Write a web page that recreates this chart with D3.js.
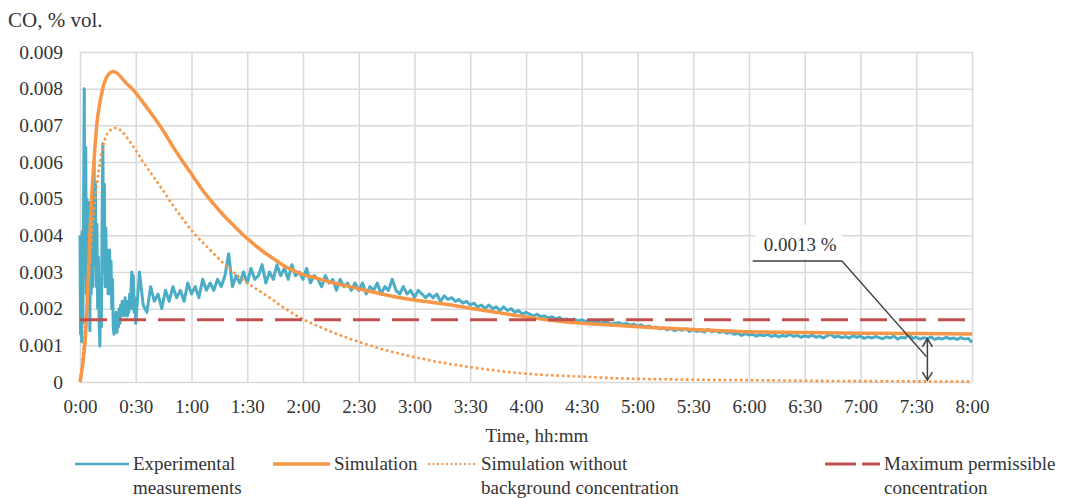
<!DOCTYPE html>
<html>
<head>
<meta charset="utf-8">
<script src="https://cdn.jsdelivr.net/npm/d3@7"></script>
<style>
  body { margin: 0; background: #fff; }
  svg { display: block; }
  text { font-family: "Liberation Serif", "Times New Roman", serif; fill: #333; }
</style>
</head>
<body>
<svg id="chart" width="1084" height="498"></svg>
<script>
// ---------- DATA (minutes, CO in units of 0.001 % vol.) ----------
const xTickMinutes = [0,30,60,90,120,150,180,210,240,270,300,330,360,390,420,450,480];
const xTickLabels = ["0:00","0:30","1:00","1:30","2:00","2:30","3:00","3:30","4:00","4:30","5:00","5:30","6:00","6:30","7:00","7:30","8:00"];
const yTickValues = [0,0.001,0.002,0.003,0.004,0.005,0.006,0.007,0.008,0.009];
const yTickLabels = ["0","0.001","0.002","0.003","0.004","0.005","0.006","0.007","0.008","0.009"];

// Experimental measurements, first 30 minutes: [minute, value x 0.001]
const expEarly = [
  [0,4.0],[0.3,1.3],[0.6,3.9],[0.9,1.1],[1.2,4.1],[1.5,1.6],[1.8,3.5],[2.1,6.4],[2.3,8.0],[2.5,3.0],
  [2.8,5.2],[3.1,6.4],[3.4,2.4],[3.7,5.0],[4.0,2.0],[4.3,4.6],[4.7,2.8],[5.0,4.9],[5.3,1.4],[5.7,4.2],
  [6.0,2.4],[6.4,3.8],[6.8,2.6],[7.2,4.6],[7.6,6.0],[7.9,3.2],[8.3,5.4],[8.7,2.6],[9.1,4.3],[9.5,2.0],
  [9.9,3.4],[10.3,1.6],[10.7,0.98],[11.1,2.8],[11.5,1.5],[11.9,4.5],[12.3,6.5],[12.7,3.0],[13.1,5.4],[13.5,2.6],
  [13.9,4.2],[14.3,2.8],[14.7,3.6],[15.1,2.4],[15.5,3.4],[15.9,3.6],[16.3,2.4],[16.7,3.3],[17.1,2.0],[17.5,2.8],
  [17.9,1.5],[18.3,1.3],[18.7,1.7],[19.1,1.4],[19.5,1.9],[19.9,1.35],[20.3,1.8],[20.7,1.5],[21.1,2.0],[21.5,1.6],
  [21.9,2.1],[22.3,1.8],[22.7,2.2],[23.1,1.9],[23.5,2.1],[23.9,1.8],[24.3,2.3],[24.7,1.9],[25.1,2.1],[25.5,1.8],
  [25.9,2.2],[26.3,1.9],[26.7,2.4],[27.1,2.0],[27.5,2.6],[27.9,3.0],[28.3,2.0],[28.7,2.9],[29.1,1.9],[29.5,2.3]
];
// Experimental measurements from minute 30, one value every 2 minutes
const expLateStart = 30, expLateStep = 2;
const expLate = [
  1.6,3.0,2.1,1.9,2.6,2.2,2.4,2.0,2.5,2.2,
  2.6,2.3,2.5,2.2,2.7,2.4,2.6,2.3,2.8,2.5,
  2.7,2.5,2.8,2.6,2.9,3.5,2.6,2.9,2.7,3.0,
  2.7,3.1,2.8,2.9,3.2,2.7,3.0,2.8,3.2,2.9,
  3.1,2.8,3.2,2.9,3.0,2.8,3.1,2.7,2.9,2.8,
  2.6,2.9,2.7,2.8,2.5,2.8,2.6,2.7,2.5,2.7,
  2.5,2.7,2.4,2.6,2.5,2.7,2.4,2.6,2.5,2.8,
  2.5,2.4,2.6,2.4,2.5,2.3,2.5,2.4,2.3,2.4,
  2.3,2.4,2.2,2.35,2.25,2.3,2.2,2.25,2.15,2.2,
  2.1,2.15,2.05,2.1,2.0,2.1,2.0,2.05,1.95,2.05,
  1.95,2.0,1.9,1.95,1.85,1.9,1.85,1.8,1.85,1.78,
  1.8,1.75,1.78,1.72,1.76,1.7,1.72,1.68,1.72,1.66,
  1.7,1.65,1.68,1.63,1.66,1.6,1.64,1.62,1.58,1.6,
  1.62,1.57,1.6,1.55,1.58,1.52,1.56,1.5,1.53,1.48,
  1.5,1.45,1.48,1.42,1.46,1.4,1.44,1.41,1.45,1.38,
  1.42,1.38,1.4,1.36,1.43,1.37,1.4,1.35,1.38,1.33,
  1.36,1.3,1.33,1.27,1.32,1.28,1.3,1.25,1.29,1.26,
  1.3,1.24,1.28,1.23,1.27,1.25,1.3,1.24,1.27,1.22,
  1.26,1.23,1.28,1.22,1.25,1.2,1.26,1.3,1.22,1.25,
  1.21,1.24,1.2,1.26,1.22,1.25,1.19,1.23,1.2,1.24,
  1.21,1.18,1.23,1.2,1.25,1.17,1.22,1.2,1.3,1.19,
  1.22,1.17,1.21,1.18,1.23,1.16,1.2,1.17,1.22,1.18,
  1.2,1.16,1.21,1.17,1.19,1.08
];

// Simulation: [minute, value x 0.001]
const simulation = [
  [0,0.0],[1.5,0.5],[3,1.3],[4,2.3],[5,3.6],[6,4.8],[7.5,6.0],[9,7.0],[11,7.7],[13,8.15],
  [15.5,8.4],[18,8.47],[20.5,8.4],[24,8.2],[28.7,7.96],[34,7.62],[39.5,7.24],[45,6.84],[50,6.42],[55.5,6.0],
  [61,5.6],[66,5.23],[71.7,4.87],[77,4.56],[82.5,4.28],[88,4.0],[93,3.78],[98.5,3.56],[104,3.37],[110,3.16],
  [115,3.04],[120,2.93],[126,2.85],[135,2.72],[145,2.6],[155,2.48],[170,2.32],[185,2.2],[197,2.12],[215,1.97],
  [233,1.83],[251,1.7],[270,1.6],[290,1.54],[310,1.48],[330,1.43],[355,1.38],[390,1.35],[420,1.33],[450,1.32],[480,1.31]
];
// Simulation without background concentration: [minute, value x 0.001]
const simulationNoBg = [
  [0,0],[1,0.4],[2.2,1.15],[4.3,2.5],[6.5,4.1],[8.6,5.2],[10.5,5.9],[12.2,6.4],[14,6.7],[16,6.85],
  [18,6.92],[19.5,6.93],[21.5,6.88],[24,6.75],[28.7,6.42],[34,6.0],[39.5,5.6],[45,5.2],[50,4.82],[55,4.47],
  [61,4.08],[70,3.6],[79,3.15],[86,2.85],[93,2.6],[97,2.47],[102,2.3],[109,2.05],[119,1.74],[126,1.57],
  [131,1.46],[143,1.22],[161,0.92],[179,0.69],[197,0.51],[215,0.37],[233,0.26],[251,0.19],[269,0.15],[290,0.1],
  [320,0.07],[360,0.05],[400,0.03],[440,0.02],[480,0.01]
];
// Maximum permissible concentration (x 0.001)
const mpcValue = 1.7;
const mpcRange = [0, 480];

// Annotation
const annotText = "0.0013 %";
const annotArrow = { t: 456, from: 1.18, to: 0.05 };
const annotLeader = [[455.5, 0.69], [410, 3.3], [362, 3.3]];

// Legend
const legendItems = [
  { key: "exp",  lines: ["Experimental", "measurements"] },
  { key: "sim",  lines: ["Simulation"] },
  { key: "simb", lines: ["Simulation without", "background concentration"] },
  { key: "mpc",  lines: ["Maximum permissible", "concentration"] }
];

// ---------- STYLE ----------
const colors = { exp: "#4bacc6", sim: "#f79646", simb: "#f79646", mpc: "#c0504d", grid: "#d9d9d9", annot: "#404040" };
const W = 1084, H = 498;
const plot = { left: 80, right: 972, top: 52, bottom: 382 };
const fontSize = 19;

const svg = d3.select("#chart");
svg.append("rect").attr("width", W).attr("height", H).attr("fill", "#fff");

const x = d3.scaleLinear().domain([0, 480]).range([plot.left, plot.right]);
const y = d3.scaleLinear().domain([0, 0.009]).range([plot.bottom, plot.top]);
const yv = v => y(v / 1000);

// Gridlines + axes
const yAxis = d3.axisLeft(y).tickValues(yTickValues)
  .tickFormat((d, i) => yTickLabels[i])
  .tickSize(-(plot.right - plot.left)).tickPadding(17);
const gy = svg.append("g").attr("transform", `translate(${plot.left},0)`).call(yAxis);
gy.select(".domain").remove();
gy.selectAll(".tick line").attr("stroke", colors.grid).attr("stroke-width", 1.5);
gy.selectAll(".tick text").attr("font-size", 19.5).attr("fill", "#333")
  .attr("font-family", '"Liberation Serif", serif');

const xAxis = d3.axisBottom(x).tickValues(xTickMinutes)
  .tickFormat((d, i) => xTickLabels[i])
  .tickSize(-(plot.bottom - plot.top)).tickPadding(17.5);
const gx = svg.append("g").attr("transform", `translate(0,${plot.bottom})`).call(xAxis);
gx.select(".domain").remove();
gx.selectAll(".tick line").attr("stroke", colors.grid).attr("stroke-width", 1.5);
gx.selectAll(".tick text").attr("font-size", fontSize).attr("fill", "#333")
  .attr("font-family", '"Liberation Serif", serif');

// Axis titles
svg.append("text").attr("x", 8).attr("y", 27).attr("font-size", 21).text("CO, % vol.");
svg.append("text").attr("x", 537).attr("y", 442).attr("text-anchor", "middle")
  .attr("font-size", fontSize).text("Time, hh:mm");

// Series
const expData = expEarly.map(d => ({ t: d[0], v: d[1] }))
  .concat(expLate.map((v, i) => ({ t: expLateStart + i * expLateStep, v })));
const lineLin = d3.line().x(d => x(d.t)).y(d => yv(d.v));
const lineSmooth = d3.line().x(d => x(d[0])).y(d => yv(d[1])).curve(d3.curveMonotoneX);

svg.append("path").datum(expData).attr("d", lineLin)
  .attr("fill", "none").attr("stroke", colors.exp).attr("stroke-width", 3).attr("stroke-linejoin", "round");
svg.append("path").datum(simulation).attr("d", lineSmooth)
  .attr("fill", "none").attr("stroke", colors.sim).attr("stroke-width", 3.5).attr("stroke-linejoin", "round");
svg.append("path").datum(simulationNoBg).attr("d", lineSmooth)
  .attr("fill", "none").attr("stroke", colors.simb).attr("stroke-width", 2.6).attr("stroke-dasharray", "2.6,2.8");
svg.append("line").attr("x1", x(mpcRange[0])).attr("x2", x(mpcRange[1]))
  .attr("y1", yv(mpcValue)).attr("y2", yv(mpcValue))
  .attr("stroke", colors.mpc).attr("stroke-width", 3).attr("stroke-dasharray", "27,12");

// Annotation
const lx = x(annotLeader[2][0]) + 3, ly = yv(annotLeader[2][1]);
svg.append("rect").attr("x", lx).attr("y", ly - 36).attr("width", x(annotLeader[1][0]) - lx).attr("height", 34).attr("fill", "#fff");
svg.append("text").attr("x", lx + 8).attr("y", ly - 10).attr("font-size", fontSize).text(annotText);
svg.append("path").datum(annotLeader)
  .attr("d", d3.line().x(d => x(d[0])).y(d => yv(d[1])))
  .attr("fill", "none").attr("stroke", colors.annot).attr("stroke-width", 1.3);
const ax = x(annotArrow.t), ay1 = yv(annotArrow.from), ay2 = yv(annotArrow.to);
const ag = svg.append("g").attr("stroke", colors.annot).attr("stroke-width", 1.5).attr("fill", "none");
ag.append("line").attr("x1", ax).attr("x2", ax).attr("y1", ay1).attr("y2", ay2);
ag.append("path").attr("d", `M${ax - 5},${ay1 + 8}L${ax},${ay1}L${ax + 5},${ay1 + 8}`);
ag.append("path").attr("d", `M${ax - 5},${ay2 - 8}L${ax},${ay2}L${ax + 5},${ay2 - 8}`);

// Legend
const legendPos = { exp: [75, 133], sim: [273, 334], simb: [428, 481], mpc: [825, 884] };
const legY = 464;
legendItems.forEach(item => {
  const [x0, tx] = legendPos[item.key];
  const ln = svg.append("line").attr("x1", x0).attr("x2", tx - 4).attr("y1", legY).attr("y2", legY)
    .attr("stroke", colors[item.key]);
  if (item.key === "exp") ln.attr("stroke-width", 2.5);
  if (item.key === "sim") ln.attr("stroke-width", 3.5);
  if (item.key === "simb") ln.attr("stroke-width", 2).attr("stroke-dasharray", "2,2.5");
  if (item.key === "mpc") ln.attr("stroke-width", 3).attr("stroke-dasharray", "31,6");
  item.lines.forEach((s, i) => {
    svg.append("text").attr("x", tx).attr("y", 470 + i * 23.5).attr("font-size", fontSize).text(s);
  });
});
</script>
</body>
</html>
